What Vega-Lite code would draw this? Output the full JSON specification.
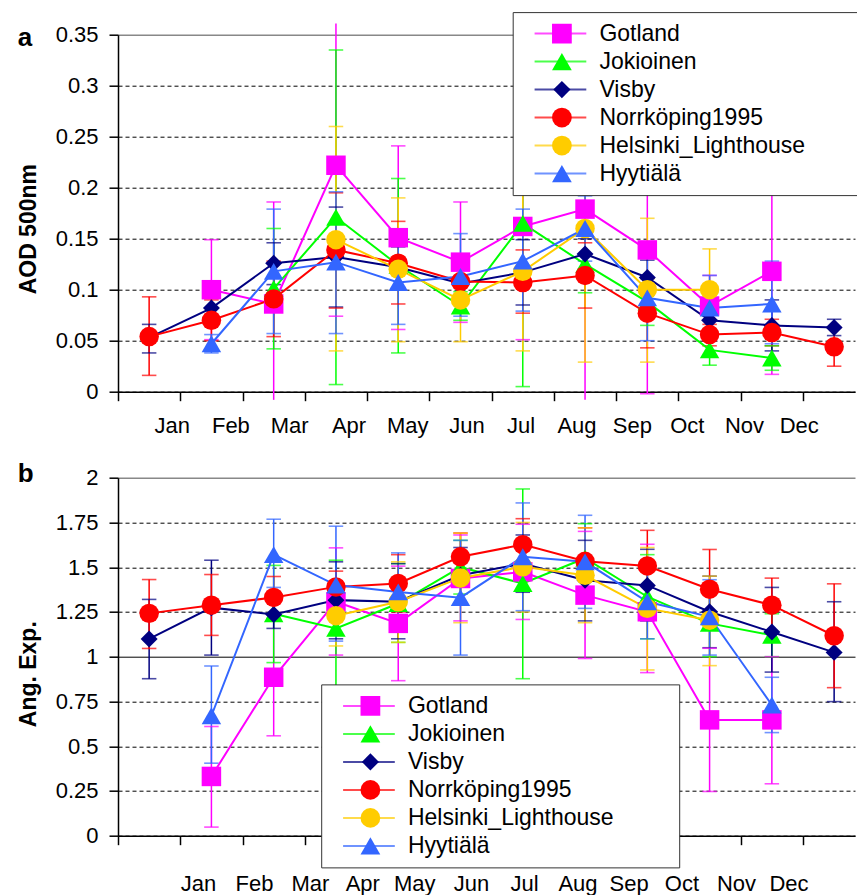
{
  "$schema": "https://vega.github.io/schema/vega-lite/v6.json",
  "padding": {"left": 17, "top": 10.7, "right": 0, "bottom": 0},
  "spacing": 23,
  "datasets": {
    "aod": [
      {"station": "Gotland", "m": 2, "v": 0.100, "lo": 0.051, "hi": 0.149},
      {"station": "Gotland", "m": 3, "v": 0.086, "lo": -0.008, "hi": 0.186},
      {"station": "Gotland", "m": 4, "v": 0.222, "lo": 0.074, "hi": 0.361},
      {"station": "Gotland", "m": 5, "v": 0.151, "lo": 0.061, "hi": 0.241},
      {"station": "Gotland", "m": 6, "v": 0.127, "lo": 0.068, "hi": 0.186},
      {"station": "Gotland", "m": 7, "v": 0.162, "lo": 0.051, "hi": 0.273},
      {"station": "Gotland", "m": 8, "v": 0.179, "lo": -0.008, "hi": 0.361},
      {"station": "Gotland", "m": 9, "v": 0.139, "lo": -0.002, "hi": 0.279},
      {"station": "Gotland", "m": 10, "v": 0.084, "lo": 0.054, "hi": 0.114},
      {"station": "Gotland", "m": 11, "v": 0.118, "lo": 0.017, "hi": 0.219},
      {"station": "Jokioinen", "m": 3, "v": 0.101, "lo": 0.042, "hi": 0.160},
      {"station": "Jokioinen", "m": 4, "v": 0.171, "lo": 0.007, "hi": 0.335},
      {"station": "Jokioinen", "m": 5, "v": 0.124, "lo": 0.038, "hi": 0.209},
      {"station": "Jokioinen", "m": 6, "v": 0.084, "lo": 0.070, "hi": 0.098},
      {"station": "Jokioinen", "m": 7, "v": 0.165, "lo": 0.005, "hi": 0.325},
      {"station": "Jokioinen", "m": 8, "v": 0.125, "lo": 0.097, "hi": 0.154},
      {"station": "Jokioinen", "m": 9, "v": 0.088, "lo": 0.065, "hi": 0.111},
      {"station": "Jokioinen", "m": 10, "v": 0.041, "lo": 0.026, "hi": 0.056},
      {"station": "Jokioinen", "m": 11, "v": 0.033, "lo": 0.021, "hi": 0.045},
      {"station": "Visby", "m": 1, "v": 0.053, "lo": 0.038, "hi": 0.066},
      {"station": "Visby", "m": 2, "v": 0.082, "lo": 0.072, "hi": 0.092},
      {"station": "Visby", "m": 3, "v": 0.126, "lo": 0.105, "hi": 0.146},
      {"station": "Visby", "m": 4, "v": 0.132, "lo": 0.083, "hi": 0.181},
      {"station": "Visby", "m": 5, "v": 0.122, "lo": 0.102, "hi": 0.142},
      {"station": "Visby", "m": 6, "v": 0.106, "lo": 0.090, "hi": 0.122},
      {"station": "Visby", "m": 7, "v": 0.117, "lo": 0.085, "hi": 0.149},
      {"station": "Visby", "m": 8, "v": 0.135, "lo": 0.120, "hi": 0.150},
      {"station": "Visby", "m": 9, "v": 0.112, "lo": 0.095, "hi": 0.129},
      {"station": "Visby", "m": 10, "v": 0.070, "lo": 0.060, "hi": 0.080},
      {"station": "Visby", "m": 11, "v": 0.065, "lo": 0.040, "hi": 0.090},
      {"station": "Visby", "m": 12, "v": 0.063, "lo": 0.055, "hi": 0.071},
      {"station": "Norrköping1995", "m": 1, "v": 0.054, "lo": 0.016, "hi": 0.093},
      {"station": "Norrköping1995", "m": 2, "v": 0.070, "lo": 0.050, "hi": 0.090},
      {"station": "Norrköping1995", "m": 3, "v": 0.091, "lo": 0.054, "hi": 0.128},
      {"station": "Norrköping1995", "m": 4, "v": 0.139, "lo": 0.082, "hi": 0.195},
      {"station": "Norrköping1995", "m": 5, "v": 0.126, "lo": 0.086, "hi": 0.167},
      {"station": "Norrköping1995", "m": 6, "v": 0.108, "lo": 0.090, "hi": 0.126},
      {"station": "Norrköping1995", "m": 7, "v": 0.107, "lo": 0.077, "hi": 0.139},
      {"station": "Norrköping1995", "m": 8, "v": 0.114, "lo": 0.082, "hi": 0.146},
      {"station": "Norrköping1995", "m": 9, "v": 0.077, "lo": 0.043, "hi": 0.111},
      {"station": "Norrköping1995", "m": 10, "v": 0.056, "lo": 0.045, "hi": 0.066},
      {"station": "Norrköping1995", "m": 11, "v": 0.058, "lo": 0.045, "hi": 0.071},
      {"station": "Norrköping1995", "m": 12, "v": 0.044, "lo": 0.025, "hi": 0.063},
      {"station": "Helsinki_Lighthouse", "m": 4, "v": 0.149, "lo": 0.040, "hi": 0.260},
      {"station": "Helsinki_Lighthouse", "m": 5, "v": 0.120, "lo": 0.049, "hi": 0.190},
      {"station": "Helsinki_Lighthouse", "m": 6, "v": 0.090, "lo": 0.049, "hi": 0.130},
      {"station": "Helsinki_Lighthouse", "m": 7, "v": 0.118, "lo": 0.040, "hi": 0.196},
      {"station": "Helsinki_Lighthouse", "m": 8, "v": 0.160, "lo": 0.029, "hi": 0.290},
      {"station": "Helsinki_Lighthouse", "m": 9, "v": 0.100, "lo": 0.029, "hi": 0.170},
      {"station": "Helsinki_Lighthouse", "m": 10, "v": 0.100, "lo": 0.060, "hi": 0.140},
      {"station": "Hyytiälä", "m": 2, "v": 0.047, "lo": 0.038, "hi": 0.056},
      {"station": "Hyytiälä", "m": 3, "v": 0.118, "lo": 0.057, "hi": 0.179},
      {"station": "Hyytiälä", "m": 4, "v": 0.127, "lo": 0.057, "hi": 0.196},
      {"station": "Hyytiälä", "m": 5, "v": 0.107, "lo": 0.066, "hi": 0.148},
      {"station": "Hyytiälä", "m": 6, "v": 0.113, "lo": 0.074, "hi": 0.155},
      {"station": "Hyytiälä", "m": 7, "v": 0.128, "lo": 0.079, "hi": 0.179},
      {"station": "Hyytiälä", "m": 8, "v": 0.160, "lo": 0.128, "hi": 0.192},
      {"station": "Hyytiälä", "m": 9, "v": 0.092, "lo": 0.050, "hi": 0.134},
      {"station": "Hyytiälä", "m": 10, "v": 0.082, "lo": 0.050, "hi": 0.114},
      {"station": "Hyytiälä", "m": 11, "v": 0.086, "lo": 0.047, "hi": 0.128}
    ],
    "ae": [
      {"station": "Gotland", "m": 2, "v": 0.331, "lo": 0.048, "hi": 0.610},
      {"station": "Gotland", "m": 3, "v": 0.885, "lo": 0.558, "hi": 1.210},
      {"station": "Gotland", "m": 4, "v": 1.307, "lo": 1.009, "hi": 1.608},
      {"station": "Gotland", "m": 5, "v": 1.186, "lo": 0.866, "hi": 1.506},
      {"station": "Gotland", "m": 6, "v": 1.437, "lo": 1.200, "hi": 1.680},
      {"station": "Gotland", "m": 7, "v": 1.474, "lo": 1.208, "hi": 1.740},
      {"station": "Gotland", "m": 8, "v": 1.344, "lo": 0.990, "hi": 1.700},
      {"station": "Gotland", "m": 9, "v": 1.251, "lo": 0.911, "hi": 1.628},
      {"station": "Gotland", "m": 10, "v": 0.647, "lo": 0.247, "hi": 1.047},
      {"station": "Gotland", "m": 11, "v": 0.647, "lo": 0.290, "hi": 1.000},
      {"station": "Jokioinen", "m": 3, "v": 1.240, "lo": 0.967, "hi": 1.510},
      {"station": "Jokioinen", "m": 4, "v": 1.158, "lo": 0.780, "hi": 1.539},
      {"station": "Jokioinen", "m": 5, "v": 1.297, "lo": 1.080, "hi": 1.520},
      {"station": "Jokioinen", "m": 6, "v": 1.500, "lo": 1.350, "hi": 1.650},
      {"station": "Jokioinen", "m": 7, "v": 1.409, "lo": 0.877, "hi": 1.937},
      {"station": "Jokioinen", "m": 8, "v": 1.550, "lo": 1.350, "hi": 1.743},
      {"station": "Jokioinen", "m": 9, "v": 1.335, "lo": 1.100, "hi": 1.570},
      {"station": "Jokioinen", "m": 10, "v": 1.186, "lo": 1.000, "hi": 1.370},
      {"station": "Jokioinen", "m": 11, "v": 1.120, "lo": 1.000, "hi": 1.240},
      {"station": "Visby", "m": 1, "v": 1.099, "lo": 0.877, "hi": 1.320},
      {"station": "Visby", "m": 2, "v": 1.274, "lo": 1.009, "hi": 1.539},
      {"station": "Visby", "m": 3, "v": 1.236, "lo": 1.158, "hi": 1.310},
      {"station": "Visby", "m": 4, "v": 1.316, "lo": 1.100, "hi": 1.530},
      {"station": "Visby", "m": 5, "v": 1.307, "lo": 1.100, "hi": 1.520},
      {"station": "Visby", "m": 6, "v": 1.455, "lo": 1.300, "hi": 1.610},
      {"station": "Visby", "m": 7, "v": 1.520, "lo": 1.360, "hi": 1.680},
      {"station": "Visby", "m": 8, "v": 1.427, "lo": 1.200, "hi": 1.650},
      {"station": "Visby", "m": 9, "v": 1.398, "lo": 1.200, "hi": 1.600},
      {"station": "Visby", "m": 10, "v": 1.251, "lo": 1.050, "hi": 1.450},
      {"station": "Visby", "m": 11, "v": 1.138, "lo": 0.914, "hi": 1.387},
      {"station": "Visby", "m": 12, "v": 1.024, "lo": 0.749, "hi": 1.307},
      {"station": "Norrköping1995", "m": 1, "v": 1.242, "lo": 1.046, "hi": 1.431},
      {"station": "Norrköping1995", "m": 2, "v": 1.288, "lo": 1.119, "hi": 1.459},
      {"station": "Norrköping1995", "m": 3, "v": 1.331, "lo": 1.214, "hi": 1.448},
      {"station": "Norrköping1995", "m": 4, "v": 1.390, "lo": 1.300, "hi": 1.478},
      {"station": "Norrköping1995", "m": 5, "v": 1.409, "lo": 1.250, "hi": 1.570},
      {"station": "Norrköping1995", "m": 6, "v": 1.558, "lo": 1.430, "hi": 1.691},
      {"station": "Norrköping1995", "m": 7, "v": 1.626, "lo": 1.480, "hi": 1.771},
      {"station": "Norrköping1995", "m": 8, "v": 1.533, "lo": 1.350, "hi": 1.720},
      {"station": "Norrköping1995", "m": 9, "v": 1.507, "lo": 1.307, "hi": 1.706},
      {"station": "Norrköping1995", "m": 10, "v": 1.377, "lo": 1.155, "hi": 1.599},
      {"station": "Norrköping1995", "m": 11, "v": 1.288, "lo": 1.137, "hi": 1.439},
      {"station": "Norrköping1995", "m": 12, "v": 1.117, "lo": 0.827, "hi": 1.407},
      {"station": "Helsinki_Lighthouse", "m": 4, "v": 1.229, "lo": 1.060, "hi": 1.400},
      {"station": "Helsinki_Lighthouse", "m": 5, "v": 1.307, "lo": 1.080, "hi": 1.530},
      {"station": "Helsinki_Lighthouse", "m": 6, "v": 1.440, "lo": 1.190, "hi": 1.690},
      {"station": "Helsinki_Lighthouse", "m": 7, "v": 1.502, "lo": 1.250, "hi": 1.750},
      {"station": "Helsinki_Lighthouse", "m": 8, "v": 1.455, "lo": 1.190, "hi": 1.720},
      {"station": "Helsinki_Lighthouse", "m": 9, "v": 1.270, "lo": 0.926, "hi": 1.610},
      {"station": "Helsinki_Lighthouse", "m": 10, "v": 1.204, "lo": 0.950, "hi": 1.450},
      {"station": "Hyytiälä", "m": 2, "v": 0.670, "lo": 0.405, "hi": 0.948},
      {"station": "Hyytiälä", "m": 3, "v": 1.570, "lo": 1.387, "hi": 1.768},
      {"station": "Hyytiälä", "m": 4, "v": 1.400, "lo": 1.087, "hi": 1.729},
      {"station": "Hyytiälä", "m": 5, "v": 1.362, "lo": 1.150, "hi": 1.580},
      {"station": "Hyytiälä", "m": 6, "v": 1.330, "lo": 1.009, "hi": 1.650},
      {"station": "Hyytiälä", "m": 7, "v": 1.558, "lo": 1.257, "hi": 1.859},
      {"station": "Hyytiälä", "m": 8, "v": 1.530, "lo": 1.270, "hi": 1.790},
      {"station": "Hyytiälä", "m": 9, "v": 1.307, "lo": 1.100, "hi": 1.520},
      {"station": "Hyytiälä", "m": 10, "v": 1.223, "lo": 1.009, "hi": 1.430},
      {"station": "Hyytiälä", "m": 11, "v": 0.730, "lo": 0.576, "hi": 0.885}
    ]
  },
  "vconcat": [
    {
      "width": 737,
      "height": 357,
      "title": {"text": "a", "anchor": "start", "frame": "bounds", "fontSize": 26, "fontWeight": "bold", "baseline": "alphabetic", "offset": -60.2, "color": "black"},
      "data": {"name": "aod"},
      "encoding": {
        "x": {
          "field": "m", "type": "quantitative",
          "scale": {"domain": [0.5, 12.335], "nice": false, "zero": false},
          "axis": {
            "title": null, "grid": false,
            "values": [0.5, 1.5, 2.5, 3.5, 4.5, 5.5, 6.5, 7.5, 8.5, 9.5, 10.5, 11.5, 1.364, 2.305, 3.248, 4.202, 5.145, 6.095, 6.964, 7.863, 8.752, 9.635, 10.553, 11.431],
            "labelExpr": "abs(datum.value - floor(datum.value) - 0.5) < 0.001 ? '' : ['Jan','Feb','Mar','Apr','May','Jun','Jul','Aug','Sep','Oct','Nov','Dec'][round((datum.value - 1.364) / 0.9197)]",
            "tickOpacity": {"condition": {"test": "abs(datum.value - floor(datum.value) - 0.5) < 0.001", "value": 1}, "value": 0},
            "labelFlush": false, "labelOverlap": false, "labelBound": false,
            "tickSize": 9, "labelPadding": 14.7
          }
        },
        "y": {
          "field": "v", "type": "quantitative",
          "scale": {"domain": [0, 0.35], "nice": false, "zero": false},
          "axis": {
            "title": "AOD 500nm", "titleFontWeight": "bold", "titlePadding": 14.5, "titleY": 194,
            "values": [0, 0.05, 0.1, 0.15, 0.2, 0.25, 0.3, 0.35], "format": ".2~f",
            "tickSize": 9, "labelPadding": 11,
            "grid": true,
            "gridColor": {"condition": {"test": "datum.value > 0.34", "value": "#888888"}, "value": "black"},
            "gridDash": {"condition": {"test": "datum.value > 0.34", "value": []}, "value": [4, 3]},
            "gridWidth": {"condition": {"test": "datum.value > 0.34", "value": 1.5}, "value": 1}
          }
        }
      },
      "layer": [
        {
          "encoding": {
            "stroke": {
              "field": "station", "type": "nominal",
              "sort": ["Gotland", "Jokioinen", "Visby", "Norrköping1995", "Helsinki_Lighthouse", "Hyytiälä"],
              "scale": {"range": ["#ff00ff", "#00ff00", "#000080", "#ff0000", "#ffcc00", "#3366ff"]},
              "legend": {
                "orient": "none", "legendX": 394.7, "legendY": -22.6, "title": null,
                "padding": 9, "fillColor": "white", "strokeColor": "#333333",
                "symbolType": "stroke", "symbolSize": 2673, "symbolStrokeWidth": 2, "symbolOffset": 11.75,
                "labelFontSize": 23, "labelExpr": "''", "labelLimit": 400, "labelOffset": 262,
                "rowPadding": 3, "clipHeight": 25, "zindex": 1
              }
            }
          },
          "layer": [
            {
              "mark": {"type": "rule", "strokeWidth": 1.5},
              "encoding": {
                "y": {"field": "lo", "type": "quantitative"},
                "y2": {"field": "hi"}
              }
            },
            {
              "transform": [{"filter": "datum.lo > -0.005"}],
              "mark": {"type": "tick", "orient": "horizontal", "size": 13, "thickness": 0.1, "filled": false, "strokeWidth": 1.5},
              "encoding": {"y": {"field": "lo", "type": "quantitative"}}
            },
            {
              "transform": [{"filter": "datum.hi < 0.355"}],
              "mark": {"type": "tick", "orient": "horizontal", "size": 13, "thickness": 0.1, "filled": false, "strokeWidth": 1.5},
              "encoding": {"y": {"field": "hi", "type": "quantitative"}}
            },
            {
              "mark": {"type": "line", "strokeWidth": 2}
            }
          ]
        },
        {
          "mark": {"type": "point", "filled": true, "size": 380, "opacity": 1},
          "encoding": {
            "fill": {
              "field": "station", "type": "nominal",
              "scale": {"domain": ["Gotland", "Jokioinen", "Visby", "Norrköping1995", "Helsinki_Lighthouse", "Hyytiälä"], "range": ["#ff00ff", "#00ff00", "#000080", "#ff0000", "#ffcc00", "#3366ff"]},
              "legend": {
                "orient": "none", "legendX": 394.7, "legendY": -22.6, "title": null,
                "padding": 9, "symbolSize": 390, "symbolStrokeWidth": 0, "symbolOffset": 28.7,
                "labelFontSize": 23, "labelColor": "black", "labelLimit": 400, "labelOffset": 26,
                "rowPadding": 3, "clipHeight": 25, "zindex": 2
              }
            },
            "shape": {
              "field": "station", "type": "nominal",
              "scale": {"domain": ["Gotland", "Jokioinen", "Visby", "Norrköping1995", "Helsinki_Lighthouse", "Hyytiälä"], "range": ["square", "triangle-up", "M-0.87,0L0,-0.87L0.87,0L0,0.87Z", "circle", "circle", "triangle-up"]},
              "legend": {
                "orient": "none", "legendX": 394.7, "legendY": -22.6, "title": null,
                "padding": 9, "symbolSize": 390, "symbolStrokeWidth": 0, "symbolOffset": 28.7,
                "labelFontSize": 23, "labelColor": "black", "labelLimit": 400, "labelOffset": 26,
                "rowPadding": 3, "clipHeight": 25, "zindex": 2
              }
            }
          }
        }
      ]
    },
    {
      "width": 737,
      "height": 358,
      "title": {"text": "b", "anchor": "start", "frame": "bounds", "fontSize": 26, "fontWeight": "bold", "baseline": "alphabetic", "offset": -40.9, "color": "black"},
      "data": {"name": "ae"},
      "encoding": {
        "x": {
          "field": "m", "type": "quantitative",
          "scale": {"domain": [0.5, 12.335], "nice": false, "zero": false},
          "axis": {
            "title": null, "grid": false,
            "values": [0.5, 1.5, 2.5, 3.5, 4.5, 5.5, 6.5, 7.5, 8.5, 9.5, 10.5, 11.5, 1.784, 2.684, 3.582, 4.422, 5.258, 6.167, 7.020, 7.878, 8.700, 9.547, 10.424, 11.266],
            "labelExpr": "abs(datum.value - floor(datum.value) - 0.5) < 0.001 ? '' : ['Jan','Feb','Mar','Apr','May','Jun','Jul','Aug','Sep','Oct','Nov','Dec'][round((datum.value - 1.784) / 0.862)]",
            "tickOpacity": {"condition": {"test": "abs(datum.value - floor(datum.value) - 0.5) < 0.001", "value": 1}, "value": 0},
            "labelFlush": false, "labelOverlap": false, "labelBound": false,
            "tickSize": 9, "labelPadding": 28.7
          }
        },
        "y": {
          "field": "v", "type": "quantitative",
          "scale": {"domain": [0, 2], "nice": false, "zero": false},
          "axis": {
            "title": "Ang. Exp.", "titleFontWeight": "bold", "titlePadding": 14.5, "titleY": 196,
            "values": [0, 0.25, 0.5, 0.75, 1, 1.25, 1.5, 1.75, 2], "format": ".2~f",
            "tickSize": 9, "labelPadding": 11,
            "grid": true,
            "gridColor": {"condition": {"test": "datum.value > 1.9", "value": "#888888"}, "value": "black"},
            "gridDash": {"condition": {"test": "datum.value > 1.9 || datum.value === 1", "value": []}, "value": [4, 3]},
            "gridWidth": {"condition": {"test": "datum.value > 1.9", "value": 1.5}, "value": 1}
          }
        }
      },
      "layer": [
        {
          "encoding": {
            "stroke": {
              "field": "station", "type": "nominal",
              "sort": ["Gotland", "Jokioinen", "Visby", "Norrköping1995", "Helsinki_Lighthouse", "Hyytiälä"],
              "scale": {"range": ["#ff00ff", "#00ff00", "#000080", "#ff0000", "#ffcc00", "#3366ff"]},
              "legend": {
                "orient": "none", "legendX": 203.2, "legendY": 206.7, "title": null,
                "padding": 9, "fillColor": "white", "strokeColor": "#333333",
                "symbolType": "stroke", "symbolSize": 2673, "symbolStrokeWidth": 2, "symbolOffset": 11.75,
                "labelFontSize": 23, "labelExpr": "''", "labelLimit": 400, "labelOffset": 274,
                "rowPadding": 3, "clipHeight": 25, "zindex": 1
              }
            }
          },
          "layer": [
            {
              "mark": {"type": "rule", "strokeWidth": 1.5},
              "encoding": {
                "y": {"field": "lo", "type": "quantitative"},
                "y2": {"field": "hi"}
              }
            },
            {
              "mark": {"type": "tick", "orient": "horizontal", "size": 13, "thickness": 0.1, "filled": false, "strokeWidth": 1.5},
              "encoding": {"y": {"field": "lo", "type": "quantitative"}}
            },
            {
              "mark": {"type": "tick", "orient": "horizontal", "size": 13, "thickness": 0.1, "filled": false, "strokeWidth": 1.5},
              "encoding": {"y": {"field": "hi", "type": "quantitative"}}
            },
            {
              "mark": {"type": "line", "strokeWidth": 2}
            }
          ]
        },
        {
          "mark": {"type": "point", "filled": true, "size": 380, "opacity": 1},
          "encoding": {
            "fill": {
              "field": "station", "type": "nominal",
              "scale": {"domain": ["Gotland", "Jokioinen", "Visby", "Norrköping1995", "Helsinki_Lighthouse", "Hyytiälä"], "range": ["#ff00ff", "#00ff00", "#000080", "#ff0000", "#ffcc00", "#3366ff"]},
              "legend": {
                "orient": "none", "legendX": 203.2, "legendY": 206.7, "title": null,
                "padding": 9, "symbolSize": 390, "symbolStrokeWidth": 0, "symbolOffset": 28.7,
                "labelFontSize": 23, "labelColor": "black", "labelLimit": 400, "labelOffset": 26,
                "rowPadding": 3, "clipHeight": 25, "zindex": 2
              }
            },
            "shape": {
              "field": "station", "type": "nominal",
              "scale": {"domain": ["Gotland", "Jokioinen", "Visby", "Norrköping1995", "Helsinki_Lighthouse", "Hyytiälä"], "range": ["square", "triangle-up", "M-0.87,0L0,-0.87L0.87,0L0,0.87Z", "circle", "circle", "triangle-up"]},
              "legend": {
                "orient": "none", "legendX": 203.2, "legendY": 206.7, "title": null,
                "padding": 9, "symbolSize": 390, "symbolStrokeWidth": 0, "symbolOffset": 28.7,
                "labelFontSize": 23, "labelColor": "black", "labelLimit": 400, "labelOffset": 26,
                "rowPadding": 3, "clipHeight": 25, "zindex": 2
              }
            }
          }
        }
      ]
    }
  ],
  "resolve": {"legend": {"stroke": "independent", "fill": "independent", "shape": "independent"}},
  "config": {
    "font": "Liberation Sans",
    "view": {"stroke": null},
    "axis": {
      "domainColor": "black", "tickColor": "black", "labelColor": "black", "titleColor": "black",
      "domainWidth": 1.5, "tickWidth": 1.5, "labelFontSize": 22, "titleFontSize": 23,
      "labelFont": "Liberation Sans", "titleFont": "Liberation Sans"
    },
    "legend": {"labelFont": "Liberation Sans"},
    "title": {"font": "Liberation Sans"}
  }
}
